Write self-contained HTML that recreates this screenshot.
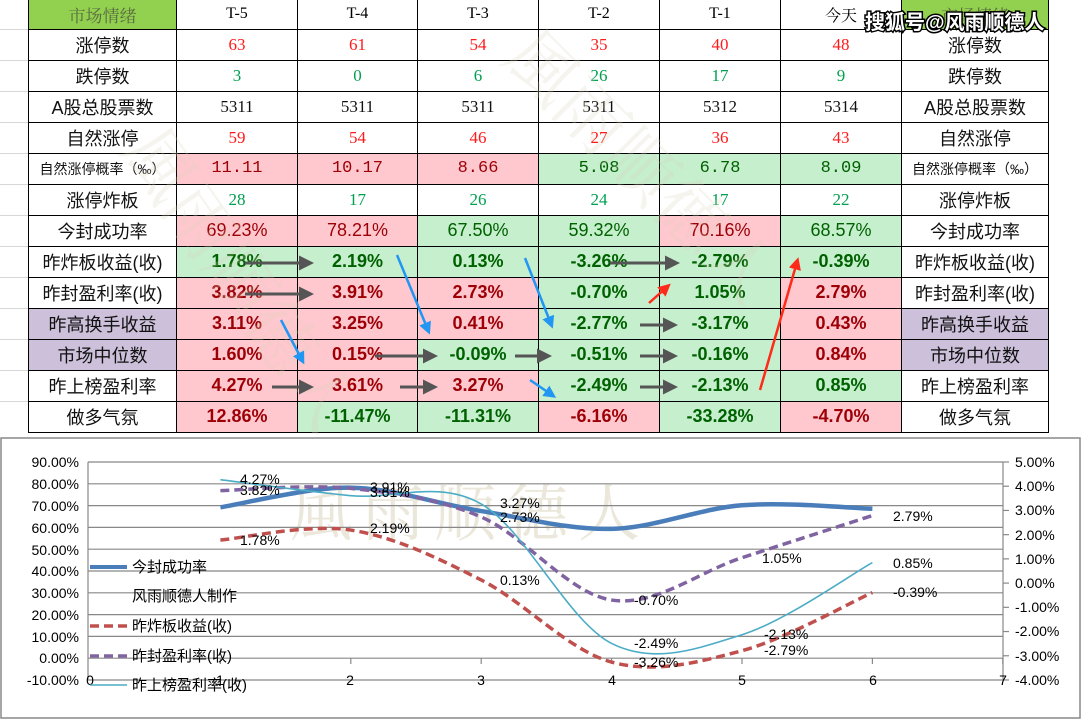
<!DOCTYPE html>
<html><head><meta charset="utf-8">
<style>
*{margin:0;padding:0;box-sizing:border-box}
body{width:1082px;height:720px;background:#fff;position:relative;overflow:hidden;font-family:"Liberation Sans","Noto Sans CJK SC",sans-serif}
table{position:absolute;left:28px;top:0;border-collapse:collapse;table-layout:fixed}
td{border:1.5px solid #000;height:31px;text-align:center;font-size:18px;padding:0;white-space:nowrap;overflow:hidden}
tr:first-child td{height:29px;font-family:"Liberation Serif","Noto Serif CJK SC",serif;font-size:16px;border-top:none}
.l{font-family:"Liberation Sans","Noto Sans CJK SC",sans-serif;font-size:18px;color:#111}
.s{font-size:14px}
.n{font-family:"Liberation Serif","Noto Serif CJK SC",serif;font-size:17px}
.r{color:#ff1a1a}.g{color:#00a050}.k{color:#111}
.P{background:#ffc7ce;color:#9c0006}.G{background:#c6efce;color:#006100}
.b{font-weight:bold}
.pu{background:#ccc0da}
.hd{background:#92d050;color:#5a6a40}
.mono{font-family:"Liberation Mono","Noto Sans CJK SC",monospace;font-size:17px}
.grid{position:absolute;left:0;width:28px;height:1px;background:#d8d8d8}
</style></head><body>
<div class="grid" style="top:29px"></div><div class="grid" style="top:60px"></div><div class="grid" style="top:91px"></div><div class="grid" style="top:122px"></div><div class="grid" style="top:153px"></div><div class="grid" style="top:184px"></div><div class="grid" style="top:215px"></div><div class="grid" style="top:246px"></div><div class="grid" style="top:277px"></div><div class="grid" style="top:308px"></div><div class="grid" style="top:339px"></div><div class="grid" style="top:370px"></div><div class="grid" style="top:401px"></div>
<table>
<colgroup><col style="width:148px"><col style="width:121px"><col style="width:120px"><col style="width:121px"><col style="width:121px"><col style="width:121px"><col style="width:121px"><col style="width:147px"></colgroup>
<tr><td class="hd l" style="font-size:17px">市场情绪</td><td>T-5</td><td>T-4</td><td>T-3</td><td>T-2</td><td>T-1</td><td>今天</td><td class="hd l" style="font-size:17px">市场情绪</td></tr>
<tr><td class="l">涨停数</td><td class="n r">63</td><td class="n r">61</td><td class="n r">54</td><td class="n r">35</td><td class="n r">40</td><td class="n r">48</td><td class="l">涨停数</td></tr>
<tr><td class="l">跌停数</td><td class="n g">3</td><td class="n g">0</td><td class="n g">6</td><td class="n g">26</td><td class="n g">17</td><td class="n g">9</td><td class="l">跌停数</td></tr>
<tr><td class="l">A股总股票数</td><td class="n k">5311</td><td class="n k">5311</td><td class="n k">5311</td><td class="n k">5311</td><td class="n k">5312</td><td class="n k">5314</td><td class="l">A股总股票数</td></tr>
<tr><td class="l">自然涨停</td><td class="n r">59</td><td class="n r">54</td><td class="n r">46</td><td class="n r">27</td><td class="n r">36</td><td class="n r">43</td><td class="l">自然涨停</td></tr>
<tr><td class="l s">自然涨停概率（‰）</td><td class="mono P">11.11</td><td class="mono P">10.17</td><td class="mono P">8.66</td><td class="mono G">5.08</td><td class="mono G">6.78</td><td class="mono G">8.09</td><td class="l s">自然涨停概率（‰）</td></tr>
<tr><td class="l">涨停炸板</td><td class="n g">28</td><td class="n g">17</td><td class="n g">26</td><td class="n g">24</td><td class="n g">17</td><td class="n g">22</td><td class="l">涨停炸板</td></tr>
<tr><td class="l">今封成功率</td><td class="P">69.23%</td><td class="P">78.21%</td><td class="G">67.50%</td><td class="G">59.32%</td><td class="P">70.16%</td><td class="G">68.57%</td><td class="l">今封成功率</td></tr>
<tr><td class="l">昨炸板收益(收)</td><td class="G b">1.78%</td><td class="G b">2.19%</td><td class="G b">0.13%</td><td class="G b">-3.26%</td><td class="G b">-2.79%</td><td class="G b">-0.39%</td><td class="l">昨炸板收益(收)</td></tr>
<tr><td class="l">昨封盈利率(收)</td><td class="P b">3.82%</td><td class="P b">3.91%</td><td class="P b">2.73%</td><td class="G b">-0.70%</td><td class="G b">1.05%</td><td class="P b">2.79%</td><td class="l">昨封盈利率(收)</td></tr>
<tr><td class="l pu">昨高换手收益</td><td class="P b">3.11%</td><td class="P b">3.25%</td><td class="P b">0.41%</td><td class="G b">-2.77%</td><td class="G b">-3.17%</td><td class="P b">0.43%</td><td class="l pu">昨高换手收益</td></tr>
<tr><td class="l pu">市场中位数</td><td class="P b">1.60%</td><td class="P b">0.15%</td><td class="G b">-0.09%</td><td class="G b">-0.51%</td><td class="G b">-0.16%</td><td class="P b">0.84%</td><td class="l pu">市场中位数</td></tr>
<tr><td class="l">昨上榜盈利率</td><td class="P b">4.27%</td><td class="P b">3.61%</td><td class="P b">3.27%</td><td class="G b">-2.49%</td><td class="G b">-2.13%</td><td class="G b">0.85%</td><td class="l">昨上榜盈利率</td></tr>
<tr><td class="l">做多气氛</td><td class="P b">12.86%</td><td class="G b">-11.47%</td><td class="G b">-11.31%</td><td class="P b">-6.16%</td><td class="G b">-33.28%</td><td class="P b">-4.70%</td><td class="l">做多气氛</td></tr>
</table>

<svg width="1082" height="720" style="position:absolute;left:0;top:0" xmlns="http://www.w3.org/2000/svg">
<defs>
<marker id="ag" markerWidth="5" markerHeight="5" refX="3" refY="2.5" orient="auto"><path d="M0,0 L5,2.5 L0,5 z" fill="#555"/></marker>
<marker id="ab" markerWidth="5" markerHeight="5" refX="3" refY="2.5" orient="auto"><path d="M0,0 L5,2.5 L0,5 z" fill="#2196f3"/></marker>
<marker id="ar" markerWidth="5" markerHeight="5" refX="3" refY="2.5" orient="auto"><path d="M0,0 L5,2.5 L0,5 z" fill="#ff2a1a"/></marker>
</defs>
<g font-family="Noto Serif CJK SC,serif" font-size="70" fill-opacity="0.25">
<text x="120" y="150" fill="#d8d2ba" transform="rotate(55 120 150)">風雨顺德人</text>
<text x="500" y="60" fill="#d8d2ba" transform="rotate(45 500 60)">風雨顺德人</text>
</g>
<g stroke="#555" stroke-width="3" marker-end="url(#ag)">
<line x1="245" y1="263" x2="308" y2="263"/><line x1="610" y1="263" x2="674" y2="263"/>
<line x1="245" y1="294" x2="308" y2="294"/>
<line x1="640" y1="325" x2="672" y2="325"/>
<line x1="375" y1="356" x2="432" y2="356"/><line x1="515" y1="356" x2="546" y2="356"/><line x1="640" y1="356" x2="672" y2="356"/>
<line x1="272" y1="387" x2="308" y2="387"/><line x1="400" y1="387" x2="432" y2="387"/><line x1="640" y1="387" x2="672" y2="387"/>
</g>
<g stroke="#2196f3" stroke-width="2.5" marker-end="url(#ab)">
<line x1="281" y1="320" x2="302" y2="360"/><line x1="397" y1="255" x2="428" y2="330"/>
<line x1="525" y1="258" x2="551" y2="324"/><line x1="530" y1="380" x2="552" y2="395"/>
</g>
<g stroke="#ff2a1a" stroke-width="2.5" marker-end="url(#ar)">
<line x1="649" y1="303" x2="667" y2="287"/><line x1="760" y1="390" x2="797" y2="262"/>
</g>
<text x="865" y="29" font-size="20" font-weight="bold" fill="#fff" stroke="#000" stroke-width="3" paint-order="stroke" font-family="Liberation Sans,Noto Sans CJK SC,sans-serif">搜狐号@风雨顺德人</text>

<rect x="1" y="438" width="1079" height="280" fill="#fff" stroke="#888" stroke-width="1.5"/>
<text x="290" y="535" font-size="62" fill="#ebe7da" font-family="Noto Serif CJK SC,serif" letter-spacing="10">風雨顺德人</text>
<g stroke="#888" stroke-width="1.2" id="grid"></g>
<g font-size="14" fill="#000" text-anchor="end" font-family="Liberation Sans,sans-serif">
<text x="79" y="467">90.00%</text><text x="79" y="489">80.00%</text><text x="79" y="511">70.00%</text><text x="79" y="533">60.00%</text><text x="79" y="555">50.00%</text><text x="79" y="576">40.00%</text><text x="79" y="598">30.00%</text><text x="79" y="620">20.00%</text><text x="79" y="642">10.00%</text><text x="79" y="663">0.00%</text><text x="79" y="685">-10.00%</text>
</g>
<g font-size="14" fill="#000" font-family="Liberation Sans,sans-serif">
<text x="1015" y="467">5.00%</text><text x="1015" y="491">4.00%</text><text x="1015" y="515">3.00%</text><text x="1015" y="540">2.00%</text><text x="1015" y="564">1.00%</text><text x="1015" y="588">0.00%</text><text x="1015" y="612">-1.00%</text><text x="1015" y="636">-2.00%</text><text x="1015" y="661">-3.00%</text><text x="1015" y="685">-4.00%</text>
</g>
<g font-size="14" fill="#000" text-anchor="middle" font-family="Liberation Sans,sans-serif">
<text x="90" y="685">0</text><text x="220" y="685">1</text><text x="350" y="685">2</text><text x="481" y="685">3</text><text x="612" y="685">4</text><text x="742" y="685">5</text><text x="873" y="685">6</text><text x="1003" y="685">7</text>
</g>
<path id="s1" fill="none" stroke="#4a7ebb" stroke-width="4.5"/>
<path id="s2" fill="none" stroke="#c0504d" stroke-width="3.5" stroke-dasharray="9,5"/>
<path id="s3" fill="none" stroke="#8064a2" stroke-width="3.5" stroke-dasharray="9,5"/>
<path id="s4" fill="none" stroke="#4bacc6" stroke-width="1.6"/>
<g font-size="14" fill="#000" font-family="Liberation Sans,sans-serif">
<text x="240" y="545">1.78%</text><text x="370" y="533">2.19%</text><text x="500" y="585">0.13%</text><text x="634" y="667">-3.26%</text><text x="764" y="655">-2.79%</text><text x="893" y="597">-0.39%</text>
<text x="240" y="495">3.82%</text><text x="370" y="492">3.91%</text><text x="500" y="522">2.73%</text><text x="634" y="605">-0.70%</text><text x="762" y="563">1.05%</text><text x="893" y="521">2.79%</text>
<text x="240" y="484">4.27%</text><text x="370" y="497">3.61%</text><text x="500" y="508">3.27%</text><text x="634" y="648">-2.49%</text><text x="764" y="639">-2.13%</text><text x="893" y="568">0.85%</text>
</g>
<g font-size="15" fill="#000" font-family="Liberation Sans,Noto Sans CJK SC,sans-serif">
<line x1="90" y1="567" x2="127" y2="567" stroke="#4a7ebb" stroke-width="4"/><text x="132" y="572">今封成功率</text>
<text x="132" y="601">风雨顺德人制作</text>
<line x1="90" y1="626" x2="127" y2="626" stroke="#c0504d" stroke-width="3.5" stroke-dasharray="9,5"/><text x="132" y="631">昨炸板收益(收)</text>
<line x1="90" y1="656" x2="127" y2="656" stroke="#8064a2" stroke-width="3.5" stroke-dasharray="9,5"/><text x="132" y="661">昨封盈利率(收)</text>
<line x1="90" y1="685" x2="127" y2="685" stroke="#4bacc6" stroke-width="1.6"/><text x="132" y="690">昨上榜盈利率(收)</text>
</g>
</svg>
<script>
(function(){
var g=document.getElementById('grid'),h='';
for(var i=0;i<=10;i++){var y=462+i*21.8;h+='<line x1="88" y1="'+y+'" x2="1003" y2="'+y+'"/>';}
h+='<line x1="88" y1="462" x2="88" y2="680"/><line x1="1003" y1="462" x2="1003" y2="680"/>';
for(var i=0;i<=9;i++){var y=462+i*24.22;h+='<line x1="1003" y1="'+y+'" x2="1009" y2="'+y+'"/>';}
for(var i=1;i<=7;i++){var x=90+130.4*i;h+='<line x1="'+x+'" y1="658" x2="'+x+'" y2="664"/>';}
g.innerHTML=h;
function X(i){return 90+130.4*i;}
function L(v){return 680-(v+10)*2.18;}
function R(v){return 680-(v+4)*24.22;}
function path(vals,f){
var p=vals.map(function(v,i){return [X(i+1),f(v)];});
var d='M'+p[0][0]+','+p[0][1];
for(var i=0;i<p.length-1;i++){
var p0=p[i-1]||p[i],p1=p[i],p2=p[i+1],p3=p[i+2]||p2,t=1/6;
d+=' C'+(p1[0]+(p2[0]-p0[0])*t)+','+(p1[1]+(p2[1]-p0[1])*t)+' '+(p2[0]-(p3[0]-p1[0])*t)+','+(p2[1]-(p3[1]-p1[1])*t)+' '+p2[0]+','+p2[1];}
return d;}
document.getElementById('s1').setAttribute('d',path([69.23,78.21,67.5,59.32,70.16,68.57],L));
document.getElementById('s2').setAttribute('d',path([1.78,2.19,0.13,-3.26,-2.79,-0.39],R));
document.getElementById('s3').setAttribute('d',path([3.82,3.91,2.73,-0.7,1.05,2.79],R));
document.getElementById('s4').setAttribute('d',path([4.27,3.61,3.27,-2.49,-2.13,0.85],R));
})();
</script>
</body></html>
